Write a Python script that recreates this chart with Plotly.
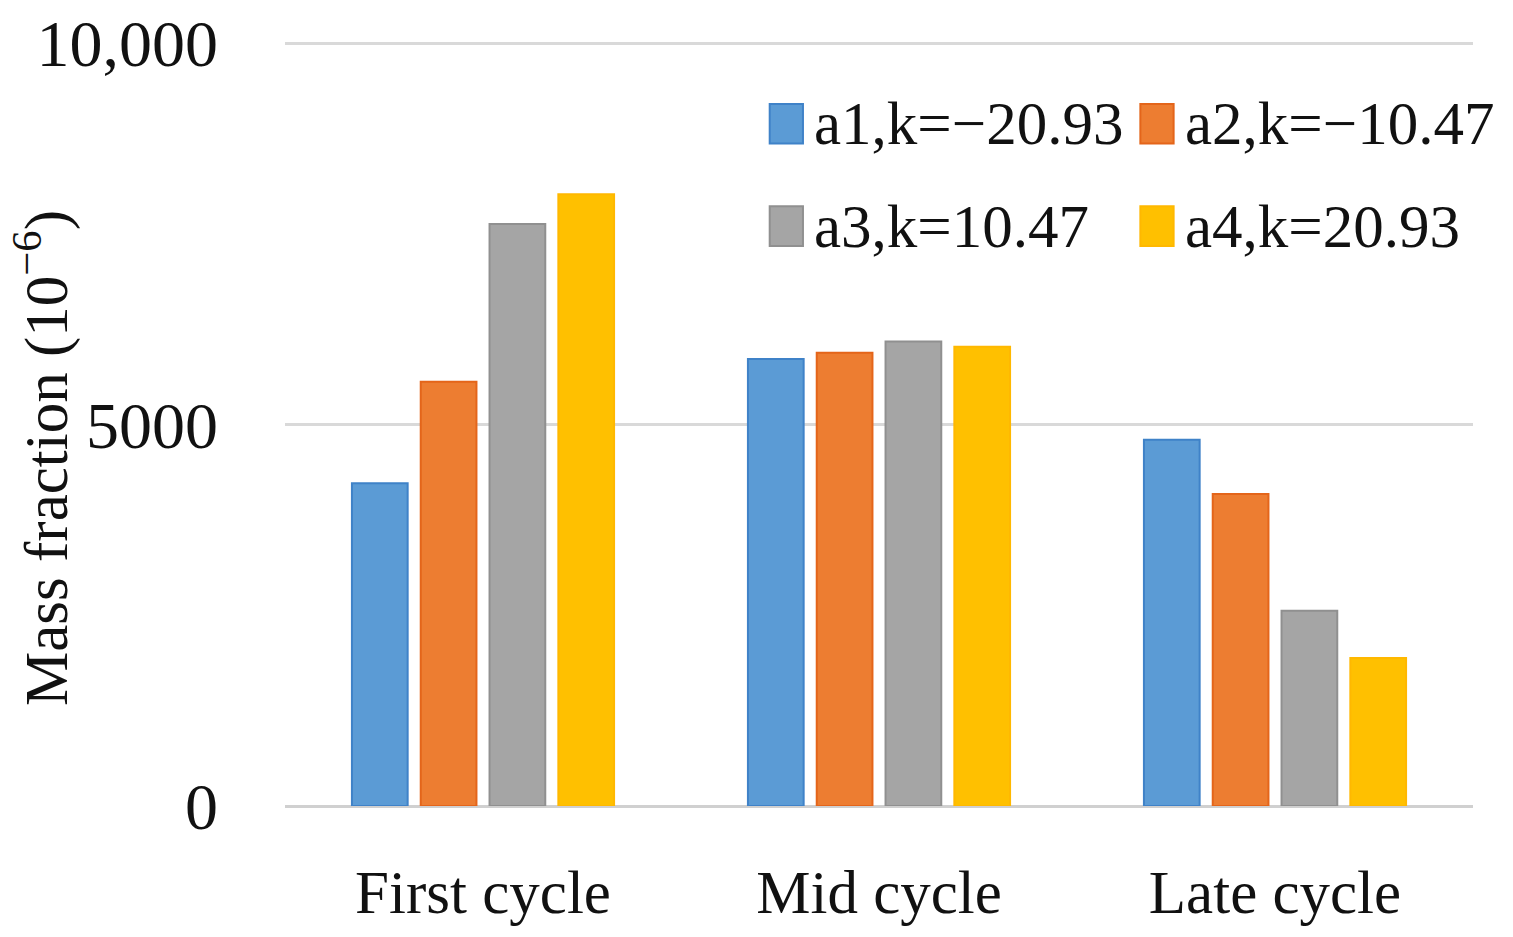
import plotly.graph_objects as go

categories = ["First cycle", "Mid cycle", "Late cycle"]
series_names = ["a1,k=−20.93", "a2,k=−10.47", "a3,k=10.47", "a4,k=20.93"]
a1 = [4230, 5860, 4800]
a2 = [5560, 5940, 4090]
a3 = [7630, 6090, 2560]
a4 = [8020, 6020, 1940]
values = [a1, a2, a3, a4]
colors = ["#5b9bd5", "#ed7d31", "#a5a5a5", "#ffc000"]
edge = ["#3f82c8", "#e4651a", "#909090", "#ffb800"]
y_ticks = [0, 5000, 10000]
y_tick_text = ["0", "5000", "10,000"]

font = "Liberation Serif"
fig = go.Figure()
for i, (name, vals) in enumerate(zip(series_names, values)):
    fig.add_trace(go.Bar(
        x=categories, y=vals, name=name, showlegend=False,
        marker=dict(color=colors[i], line=dict(color=edge[i], width=2)),
    ))

# manual legend (2 x 2 grid)
col_x = [0.408, 0.720]
row_y = [0.893, 0.759]
sq_w, sq_h = 0.028, 0.052
shapes = []
annotations = []
for i, name in enumerate(series_names):
    r, c = divmod(i, 2)
    x0 = col_x[c]
    yc = row_y[r]
    shapes.append(dict(type="rect", xref="paper", yref="paper",
                       x0=x0, x1=x0 + sq_w, y0=yc - sq_h / 2, y1=yc + sq_h / 2,
                       fillcolor=colors[i], line=dict(color=edge[i], width=2)))
    annotations.append(dict(xref="paper", yref="paper", x=x0 + sq_w + 0.008, y=yc,
                            xanchor="left", yanchor="middle", text=name, showarrow=False,
                            font=dict(family=font, size=61, color="#111")))

fig.update_layout(
    width=1513, height=937,
    margin=dict(l=277, r=48, t=34, b=139),
    paper_bgcolor="white", plot_bgcolor="white",
    barmode="group", bargap=0.305, bargroupgap=0.19,
    font=dict(family=font, size=50, color="#111"),
    showlegend=False,
    shapes=shapes, annotations=annotations,
    xaxis=dict(showgrid=False, showline=False, ticks="", ticklabelstandoff=45,
               automargin=False,
               tickfont=dict(family=font, size=61, color="#111")),
    yaxis=dict(range=[0, 10015], tickvals=y_ticks, ticktext=y_tick_text,
               showgrid=True, gridcolor="#d9d9d9", gridwidth=3,
               zeroline=True, zerolinecolor="#d0d0d0", zerolinewidth=3,
               showline=False, ticks="", ticklabelstandoff=66,
               ticklabeloverflow="allow", automargin=False,
               tickfont=dict(family=font, size=66, color="#111")),
)
fig.add_annotation(xref="paper", yref="paper", x=-(285 - 42) / 1188, y=(806 - 458) / 764,
                   text="Mass fraction (10<sup>−6</sup>)", textangle=-90, showarrow=False,
                   xanchor="center", yanchor="middle",
                   font=dict(family=font, size=61, color="#111"))
fig.write_html("out.html")
